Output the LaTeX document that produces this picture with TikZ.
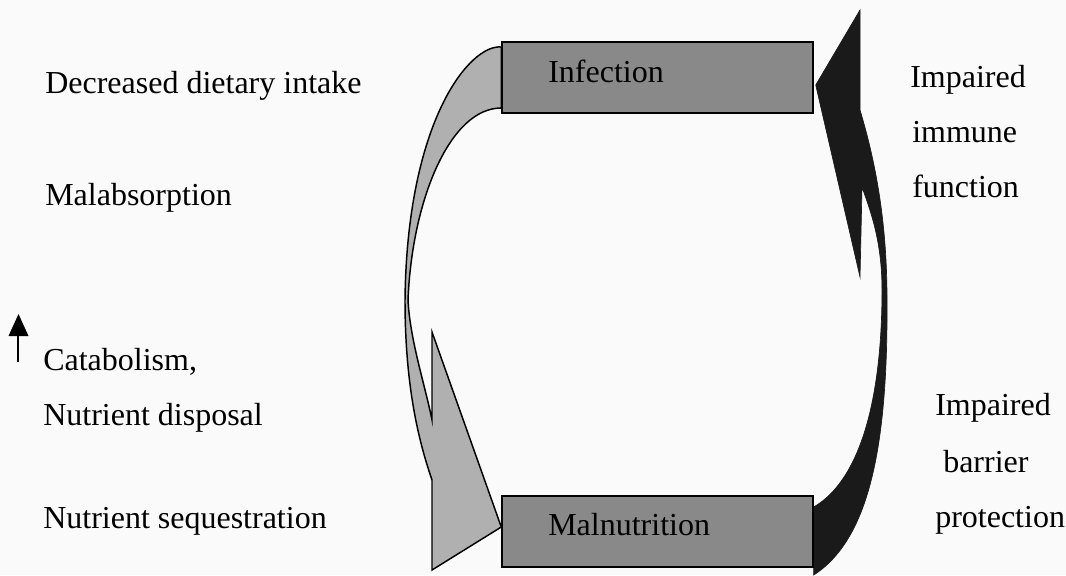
\documentclass[tikz,border=0pt]{standalone}
\usepackage{fontspec}
\setmainfont{Liberation Serif}
\usetikzlibrary{calc,arrows.meta,backgrounds}
\definecolor{bgcol}{RGB}{250,250,250}
\definecolor{boxgrey}{RGB}{137,137,137}
\definecolor{arrowgrey}{RGB}{176,176,176}
\definecolor{arrowblack}{RGB}{26,26,26}
\begin{document}
\begin{tikzpicture}[x=0.75pt,y=-0.75pt,
  lbl/.style={anchor=base west,inner sep=0pt,font=\fontsize{24}{28}\selectfont},
  boxnode/.style={draw=black,line width=1.1pt,fill=boxgrey,minimum width=233.25pt,minimum height=53.25pt,inner sep=0pt},
  greyarrow/.style={fill=arrowgrey,draw=black,line width=1.1pt,line join=miter},
  blackarrow/.style={fill=arrowblack,draw=arrowblack,line width=0.5pt}]
\useasboundingbox (0,0) rectangle (1066,575);

% boxes
\node[boxnode] (inf) at (657.5,77.5) {};
\node[boxnode] (mal) at (657.5,531.5) {};

% connectors (behind the boxes)
\begin{scope}[on background layer]
\fill[bgcol] (0,0) rectangle (1066,575);
% grey arrow: Infection -> Malnutrition
\draw[greyarrow]
  ($(inf.west)+(0,-30.5)$) .. controls (470,44) and (407,120) .. (405,300)
  .. controls (405,390) and (420,445) .. (432,480)
  -- (432,570) -- ($(mal.west)+(0,-4.5)$) -- (432,332) -- (432,420)
  .. controls (425,385) and (410,340) .. (408,300)
  .. controls (412,200) and (450,108) .. ($(inf.west)+(0,30.5)$) -- cycle;
% black arrow: Malnutrition -> Infection
\draw[blackarrow]
  ($(mal.east)+(0,-24.5)$) .. controls (860,480) and (882,400) .. (882,290)
  .. controls (882,240) and (870,210) .. (862,187)
  -- (860,277) -- ($(inf.east)+(2,7.5)$) -- (860,10) -- (860,110)
  .. controls (878,170) and (887,230) .. (887,300)
  .. controls (888,450) and (868,540) .. ($(mal.east)+(0,43.5)$) -- cycle;
\end{scope}

% box labels
\node[lbl] (inftxt) at (548,82) {Infection};
\node[lbl] (maltxt) at (548,535) {Malnutrition};

% left labels
\node[lbl] (ddi) at (45,93) {Decreased dietary intake};
\node[lbl] (malab) at (45,205) {Malabsorption};
\node[lbl] (catab) at (43,370) {Catabolism,};
\node[lbl] (nutdisp) at (43,425) {Nutrient disposal};
\node[lbl] (nutseq) at (43,528) {Nutrient sequestration};
\draw[line width=1.6pt] (18,362) -- (18,333);
\fill (8.5,336) -- (18.5,314) -- (28.5,336) -- cycle;

% right labels
\node[lbl] (imp1) at (910,87) {Impaired};
\node[lbl] (immune) at (912,142) {immune};
\node[lbl] (func) at (912,197) {function};
\node[lbl] (imp2) at (935,415) {Impaired};
\node[lbl] (barrier) at (943,472) {barrier};
\node[lbl] (prot) at (935,527) {protection};
\end{tikzpicture}
\end{document}
